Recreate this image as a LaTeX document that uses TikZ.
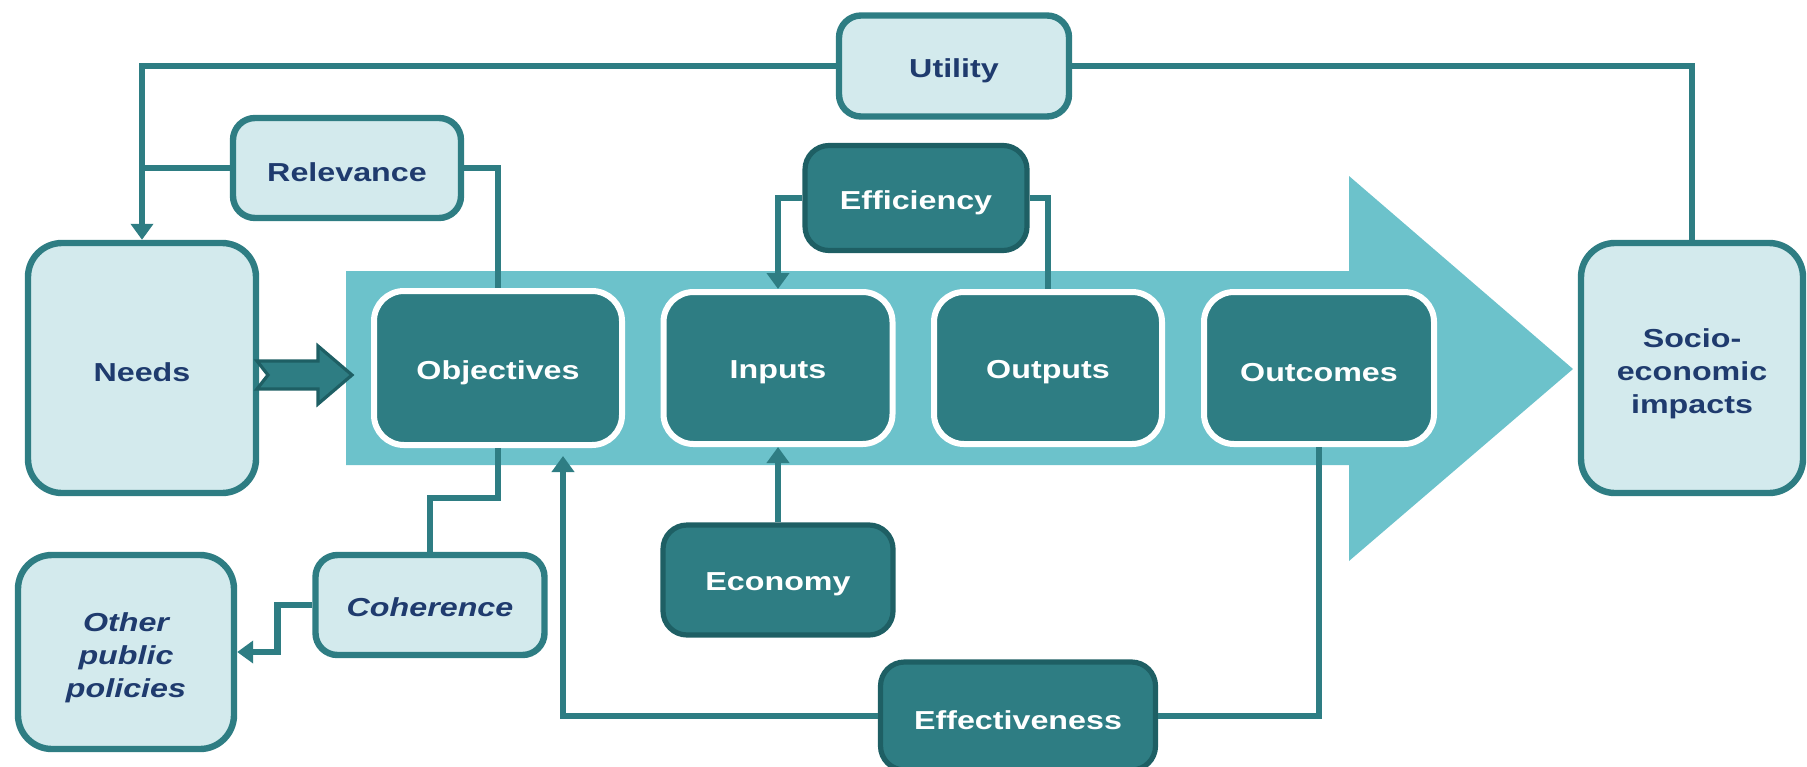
\documentclass[tikz,border=0pt]{standalone}
\usepackage{fontspec}
\setmainfont{Liberation Sans}[FakeStretch=1.24]
\usetikzlibrary{arrows.meta,calc}

\definecolor{bandc}{HTML}{6CC2CB}
\definecolor{darkc}{HTML}{2E7D83}
\definecolor{darkedge}{HTML}{1E5F64}
\definecolor{lightc}{HTML}{D3EAED}
\definecolor{linec}{HTML}{2E7D83}
\definecolor{navy}{HTML}{1F3B6E}

% set a label a little lower than the plain box centre
\newcommand\lowtext[2][2.2pt]{\raisebox{-#1}[\height][\depth]{#2}}
\newcommand\stacktext[1]{\lowtext[3pt]{\begin{tabular}{@{}c@{}}#1\end{tabular}}}

\tikzset{
  txt/.style={font=\fontsize{13}{16.5}\selectfont\bfseries, align=center, inner sep=0pt},
  lightbox/.style={txt, draw=linec, line width=3.2pt, fill=lightc, rounded corners=11pt, text=navy},
  bigbox/.style={lightbox, rounded corners=17pt},
  procbox/.style={txt, draw=white, line width=3pt, fill=darkc, rounded corners=15pt, text=white},
  darkbox/.style={txt, draw=darkedge, line width=2.6pt, fill=darkc, rounded corners=12pt, text=white},
  conn/.style={draw=linec, line width=3.4pt},
  tri/.tip={Triangle[width=11pt,length=8pt]},
}

\begin{document}
\begin{tikzpicture}[x=0.5pt,y=-0.5pt]
\useasboundingbox (0,0) rectangle (1807,766);

% main process band with its arrow head
\fill[bandc] (346,271) -- (1349,271) -- (1349,176) -- (1573,369)
  -- (1349,561) -- (1349,465) -- (346,465) -- cycle;

% process steps inside the band
\node[procbox, minimum width=124pt, minimum height=77pt] (objectives) at (498,368) {\lowtext{Objectives}};
\node[procbox, minimum width=114.5pt, minimum height=76pt] (inputs) at (778,368) {\lowtext{Inputs}};
\node[procbox, minimum width=114pt, minimum height=76pt] (outputs) at (1048,368) {\lowtext{Outputs}};
\node[procbox, minimum width=115pt, minimum height=76pt] (outcomes) at (1319,368) {\lowtext{Outcomes}};

% context boxes
\node[bigbox, minimum width=114pt, minimum height=125pt] (needs) at (142,368) {\lowtext{Needs}};
\node[bigbox, minimum width=111pt, minimum height=125pt] (socio) at (1692,368) {\stacktext{Socio-\\economic\\impacts}};
\node[bigbox, minimum width=108pt, minimum height=97pt, font=\fontsize{13}{16.5}\selectfont\bfseries\itshape] (other) at (126,652) {\stacktext{Other\\public\\policies}};

% evaluation criteria
\node[lightbox, minimum width=114pt, minimum height=50pt] (relevance) at (347,168) {\lowtext{Relevance}};
\node[lightbox, minimum width=114.5pt, minimum height=50pt, font=\fontsize{13}{16.5}\selectfont\bfseries\itshape] (coherence) at (430,605) {\lowtext[1pt]{Coherence}};
\node[lightbox, minimum width=115pt, minimum height=50.5pt] (utility) at (954,66) {\lowtext{Utility}};
\node[darkbox, minimum width=111pt, minimum height=52.5pt] (efficiency) at (916,198) {\lowtext{Efficiency}};
\node[darkbox, minimum width=115pt, minimum height=55pt] (economy) at (778,580) {\lowtext{Economy}};
\node[darkbox, minimum width=137.5pt, minimum height=54pt] (effectiveness) at (1018,716) {\lowtext{Effectiveness}};

% block arrow from needs to objectives
\filldraw[fill=darkc, draw=darkedge, line width=1.6pt, line join=miter]
  (257,361) -- (318,361) -- (318,346) -- (352,375) -- (318,404)
  -- (318,389) -- (257,389) -- (268,375) -- cycle;

% connectors
\coordinate (efftip) at (563,456);
\draw[conn,-tri] (utility.west) -| (needs.north);
\draw[conn] (utility.east) -| (socio.north);
\draw[conn] (relevance.west) -- (relevance.west -| needs.north);
\draw[conn] (relevance.east) -| (objectives.north);
\draw[conn,-tri] (efficiency.west) -| (inputs.north);
\draw[conn] (efficiency.east) -| (outputs.north);
\draw[conn,-tri] (economy.north) -- (inputs.south);
\draw[conn,-tri] (effectiveness.west) -| (efftip);
\draw[conn] (effectiveness.east) -| (outcomes.south);
\draw[conn] (objectives.south) -- ++(0,50) -| (coherence.north);
\draw[conn,-tri] (coherence.west) -- ++(-35,0) |- (other.east);
\end{tikzpicture}
\end{document}
